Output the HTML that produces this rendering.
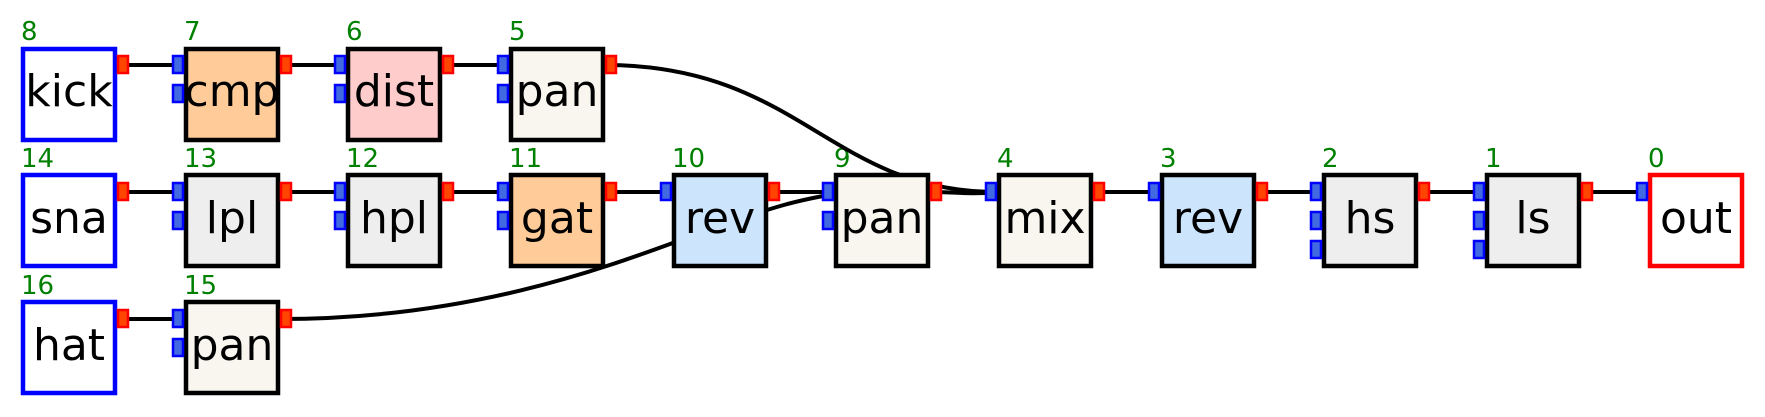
<!DOCTYPE html>
<html><head><meta charset="utf-8"><style>
html,body{margin:0;padding:0;background:#fff;}
svg{display:block;}
text{font-family:"DejaVu Sans","Liberation Sans",sans-serif;}
.n{fill:#008000;font-size:26px;}
.t{font-size:44px;fill:#000;text-anchor:middle;}
.b{stroke:#000;stroke-width:4.5;}
.i{fill:#4169e1;stroke:#0000ff;stroke-width:2.5;}
.o{fill:#ff4500;stroke:#ff0000;stroke-width:2.5;}
.l{stroke:#000;stroke-width:4;fill:none;}
</style></head><body>
<svg width="1765" height="417" viewBox="0 0 1765 417" xmlns="http://www.w3.org/2000/svg">
<g class="n">
<text x="21" y="40">8</text><text x="184" y="40">7</text><text x="346" y="40">6</text><text x="509" y="40">5</text>
<text x="21" y="167">14</text><text x="184" y="167">13</text><text x="346" y="167">12</text><text x="509" y="167">11</text>
<text x="672" y="167">10</text><text x="834" y="167">9</text><text x="997" y="167">4</text><text x="1160" y="167">3</text>
<text x="1322" y="167">2</text><text x="1485" y="167">1</text><text x="1648" y="167">0</text>
<text x="21" y="294">16</text><text x="184" y="294">15</text>
</g>
<g class="l">
<path d="M117 65 H172"/><path d="M280 65 H334"/><path d="M442 65 H497"/>
<path d="M117 192 H172"/><path d="M280 192 H334"/><path d="M442 192 H497"/><path d="M605 192 H660"/>
<path d="M768 192 H822"/>
<path d="M930 192 C960 192 960 194 985 193"/>
<path d="M1093 192 H1148"/><path d="M1256 192 H1310"/><path d="M1418 192 H1473"/><path d="M1581 192 H1636"/>
<path d="M117 319 H172"/>
<path d="M605 65 C800 65 830 192 997 192"/>
<path d="M280 319 C480 319 620 262 700 233 S800 200 834 194"/>
</g>
<g class="b">
<rect x="23" y="49" width="92" height="91" fill="#fff" stroke="#0000ff"/>
<rect x="186" y="49" width="92" height="91" fill="#ffcc99"/>
<rect x="348" y="49" width="92" height="91" fill="#ffcccc"/>
<rect x="511" y="49" width="92" height="91" fill="#f8f6ee"/>
<rect x="23" y="175" width="92" height="91" fill="#fff" stroke="#0000ff"/>
<rect x="186" y="175" width="92" height="91" fill="#eeeeee"/>
<rect x="348" y="175" width="92" height="91" fill="#eeeeee"/>
<rect x="511" y="175" width="92" height="91" fill="#ffcc99"/>
<rect x="674" y="175" width="92" height="91" fill="#cce5fc"/>
<rect x="836" y="175" width="92" height="91" fill="#f8f6ee"/>
<rect x="999" y="175" width="92" height="91" fill="#f8f6ee"/>
<rect x="1162" y="175" width="92" height="91" fill="#cce5fc"/>
<rect x="1324" y="175" width="92" height="91" fill="#eeeeee"/>
<rect x="1487" y="175" width="92" height="91" fill="#eeeeee"/>
<rect x="1650" y="175" width="92" height="91" fill="#fff" stroke="#ff0000"/>
<rect x="23" y="302" width="92" height="91" fill="#fff" stroke="#0000ff"/>
<rect x="186" y="302" width="92" height="91" fill="#f8f6ee"/>
</g>
<g class="t">
<text x="69" y="106">kick</text><text x="232" y="106">cmp</text><text x="394" y="106">dist</text><text x="557" y="106">pan</text>
<text x="69" y="233">sna</text><text x="232" y="233">lpl</text><text x="394" y="233">hpl</text><text x="557" y="233">gat</text>
<text x="720" y="233">rev</text><text x="882" y="233">pan</text><text x="1045" y="233">mix</text><text x="1208" y="233">rev</text>
<text x="1370" y="233">hs</text><text x="1533" y="233">ls</text><text x="1696" y="233">out</text>
<text x="69" y="360">hat</text><text x="232" y="360">pan</text>
</g>
<g class="o">
<rect x="118" y="56" width="10" height="17"/><rect x="281" y="56" width="10" height="17"/><rect x="443" y="56" width="10" height="17"/><rect x="606" y="56" width="10" height="17"/>
<rect x="118" y="183" width="10" height="17"/><rect x="281" y="183" width="10" height="17"/><rect x="443" y="183" width="10" height="17"/><rect x="606" y="183" width="10" height="17"/>
<rect x="769" y="183" width="10" height="17"/><rect x="931" y="183" width="10" height="17"/><rect x="1094" y="183" width="10" height="17"/><rect x="1257" y="183" width="10" height="17"/>
<rect x="1419" y="183" width="10" height="17"/><rect x="1582" y="183" width="10" height="17"/>
<rect x="118" y="310" width="10" height="17"/><rect x="281" y="310" width="10" height="17"/>
</g>
<g class="i">
<rect x="173" y="56" width="10" height="17"/><rect x="173" y="85" width="10" height="17"/>
<rect x="335" y="56" width="10" height="17"/><rect x="335" y="85" width="10" height="17"/>
<rect x="498" y="56" width="10" height="17"/><rect x="498" y="85" width="10" height="17"/>
<rect x="173" y="183" width="10" height="17"/><rect x="173" y="212" width="10" height="17"/>
<rect x="335" y="183" width="10" height="17"/><rect x="335" y="212" width="10" height="17"/>
<rect x="498" y="183" width="10" height="17"/><rect x="498" y="212" width="10" height="17"/>
<rect x="661" y="183" width="10" height="17"/>
<rect x="823" y="183" width="10" height="17"/><rect x="823" y="212" width="10" height="17"/>
<rect x="986" y="183" width="10" height="17"/>
<rect x="1149" y="183" width="10" height="17"/>
<rect x="1311" y="183" width="10" height="17"/><rect x="1311" y="212" width="10" height="17"/><rect x="1311" y="241" width="10" height="17"/>
<rect x="1474" y="183" width="10" height="17"/><rect x="1474" y="212" width="10" height="17"/><rect x="1474" y="241" width="10" height="17"/>
<rect x="1637" y="183" width="10" height="17"/>
<rect x="173" y="310" width="10" height="17"/><rect x="173" y="339" width="10" height="17"/>
</g>
</svg>
</body></html>
